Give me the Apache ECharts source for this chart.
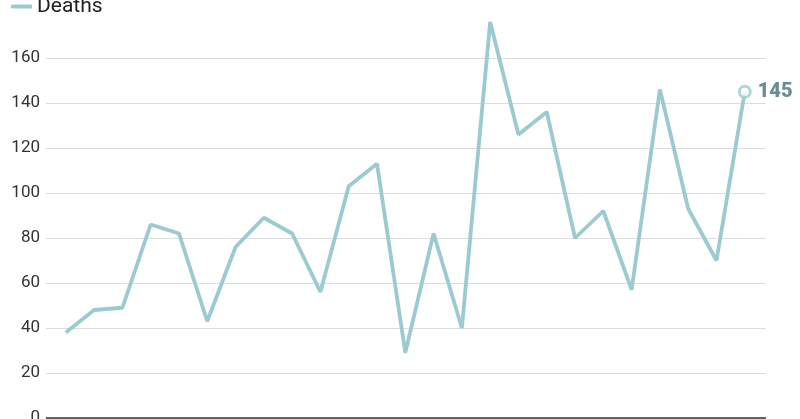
<!DOCTYPE html>
<html><head><meta charset="utf-8">
<script src="https://cdn.jsdelivr.net/npm/echarts@6/dist/echarts.min.js"></script>
<style>html,body{margin:0;padding:0;background:#fff}#c{width:800px;height:419px}</style>
</head><body><div id="c"></div>
<script>
const seriesName = 'Deaths';
const deaths = [38, 48, 49, 86, 82, 43, 76, 89, 82, 56, 103, 113, 29, 82, 40, 176, 126, 136, 80, 92, 57, 146, 93, 70, 145];
const yTicks = [0, 20, 40, 60, 80, 100, 120, 140, 160];
const pts = deaths.map((v, i) => [i, v]);
const last = pts.length - 1;
const chart = echarts.init(document.getElementById('c'));
const font = "'Liberation Sans Narrow', 'Roboto', sans-serif";
chart.setOption({
  animation: false,
  grid: {left: 46, right: 34, top: 13, bottom: 1, containLabel: false, outerBoundsMode: 'none'},
  legend: {
    show: true, left: 6, top: -9, icon: 'roundRect', itemWidth: 21, itemHeight: 4,
    textStyle: {fontFamily: font, fontSize: 21, color: '#222'},
    data: [seriesName]
  },
  xAxis: {type: 'value', min: -0.7, max: 24.75, show: false},
  yAxis: {
    type: 'value', min: 0, max: 180, interval: 20,
    axisLine: {show: false}, axisTick: {show: false},
    axisLabel: {showMaxLabel: false, margin: 6, fontFamily: font, fontSize: 17, color: '#333',
      formatter: v => yTicks.includes(v) ? String(v) : ''},
    splitLine: {showMaxLine: false, lineStyle: {color: '#dddddd', width: 1}}
  },
  series: [{
    name: seriesName, type: 'line', data: pts, showSymbol: false,
    lineStyle: {color: '#9ccad1', width: 3.8}, itemStyle: {color: '#9ccad1'},
    markLine: {silent: true, symbol: 'none', label: {show: false},
      lineStyle: {color: '#333', width: 1.5, type: 'solid'}, data: [{yAxis: 0}]}
  }, {
    type: 'scatter', data: [pts[last]], symbol: 'circle', symbolSize: 11, z: 5,
    itemStyle: {color: '#fff', borderColor: '#9ccad1', borderWidth: 3},
    label: {show: true, position: 'right', distance: 6, formatter: p => String(p.value[1]),
      fontFamily: "'Liberation Sans Narrow', 'Roboto', sans-serif", fontWeight: 900, fontSize: 20, color: '#42727a'}
  }]
});
</script></body></html>
